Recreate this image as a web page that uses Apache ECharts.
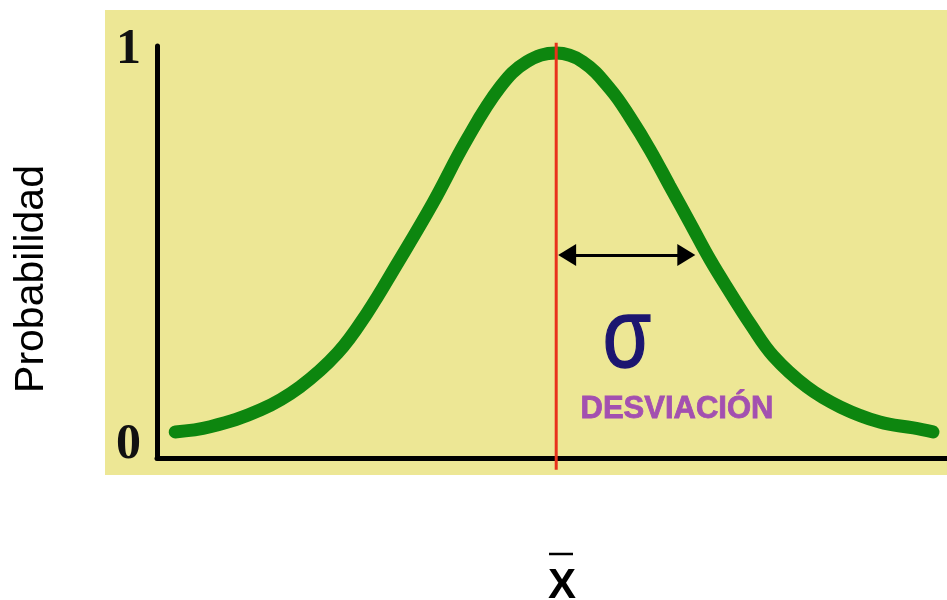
<!DOCTYPE html>
<html>
<head>
<meta charset="utf-8">
<script src="https://cdn.jsdelivr.net/npm/echarts@6/dist/echarts.min.js"></script>
<style>
  html, body { margin: 0; padding: 0; background: #fff; }
  #chart { width: 947px; height: 600px; }
</style>
</head>
<body>
<div id="chart"></div>
<script>
// curve (x in sigma units from the mean, y as probability)
const xValues = [-2.72, -2.47, -2.11, -1.83, -1.56, -1.35, -1.14, -0.88, -0.64, -0.40, -0.21, 0,
                 0.19, 0.39, 0.53, 0.67, 0.81, 0.96, 1.10, 1.24, 1.39, 1.55, 1.79, 2.03, 2.31, 2.55, 2.69];
const probValues = [0.033, 0.046, 0.089, 0.147, 0.233, 0.334, 0.456, 0.613, 0.772, 0.906, 0.970, 0.992,
                    0.970, 0.899, 0.828, 0.747, 0.656, 0.559, 0.468, 0.387, 0.304, 0.225, 0.147, 0.096, 0.058, 0.043, 0.033];
const yTicks = [0, 1];
// mean line and sigma arrow (arrow heads are centred on these x values)
const meanX = 0;
const meanLine = [-0.063, 1.018];
const sigmaArrowX = [0.078, 0.929];
const sigmaArrowY = 0.481;

const chart = echarts.init(document.getElementById('chart'));

const curve = xValues.map((x, i) => [x, probValues[i]]);

chart.setOption({
  backgroundColor: '#ffffff',
  animation: false,
  grid: { left: 157, right: 0, top: 46, bottom: 142 },
  xAxis: {
    type: 'value',
    min: -2.85,
    max: 2.79,
    axisLine: { onZero: false, lineStyle: { color: '#000', width: 5 } },
    axisTick: { show: false },
    axisLabel: { show: false },
    splitLine: { show: false }
  },
  yAxis: {
    type: 'value',
    min: -0.033,
    max: 1.01,
    axisLine: { show: true, onZero: false, lineStyle: { color: '#000', width: 5, cap: 'round' } },
    axisTick: { show: false },
    splitLine: { show: false },
    axisLabel: {
      customValues: yTicks,
      margin: 16,
      fontFamily: 'Liberation Serif',
      fontWeight: 'bold',
      fontSize: 50,
      color: '#111'
    }
  },
  graphic: [
    { type: 'rect', z: -100, shape: { x: 105, y: 10, width: 842, height: 465 }, style: { fill: '#ede795' } },
    {
      type: 'text', x: 32, y: 279, rotation: Math.PI / 2,
      style: { text: 'Probabilidad', font: '41px "Liberation Sans"', fill: '#000', align: 'center', verticalAlign: 'middle' }
    },
    {
      type: 'text', x: 562, y: 586,
      style: { text: 'X', font: 'bold 42px "Liberation Sans"', fill: '#000', align: 'center', verticalAlign: 'middle' }
    },
    { type: 'line', shape: { x1: 549, y1: 554, x2: 573, y2: 554 }, style: { stroke: '#000', lineWidth: 2.5 } },
    {
      type: 'text', x: 627, y: 340, scaleX: 0.8, z: 100,
      style: { text: 'σ', font: '98px "Liberation Sans"', fill: '#1c1670', stroke: '#1c1670', lineWidth: 1.5, align: 'center', verticalAlign: 'middle' }
    },
    {
      type: 'text', x: 677, y: 409, z: 100,
      style: { text: 'DESVIACIÓN', font: 'bold 31px "Liberation Sans"', fill: '#a350b0', stroke: '#a350b0', lineWidth: 0.8, align: 'center', verticalAlign: 'middle' }
    }
  ],
  series: [
    {
      type: 'line',
      data: curve,
      smooth: 0.4,
      symbol: 'none',
      lineStyle: { color: '#0d860f', width: 13, cap: 'round' }
    },
    {
      type: 'line',
      data: [[meanX, meanLine[0]], [meanX, meanLine[1]]],
      clip: false,
      symbol: 'none',
      lineStyle: { color: '#e8321c', width: 3 },
      markLine: {
        silent: true,
        symbol: ['triangle', 'triangle'],
        symbolSize: [22, 18],
        label: { show: false },
        lineStyle: { color: '#000', width: 3, type: 'solid' },
        data: [[{ coord: [sigmaArrowX[0], sigmaArrowY] }, { coord: [sigmaArrowX[1], sigmaArrowY] }]]
      }
    }
  ]
});
</script>
</body>
</html>
